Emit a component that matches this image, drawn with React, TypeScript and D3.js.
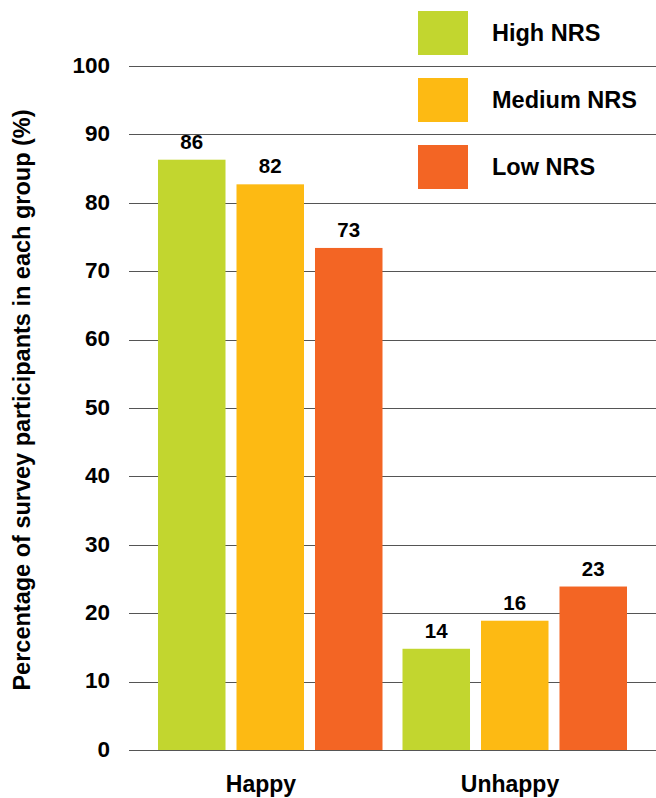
import React from "react";
import * as d3 from "d3";

const categories = ["Happy", "Unhappy"];
const seriesNames = ["High NRS", "Medium NRS", "Low NRS"];
const seriesColors = ["#C2D62F", "#FDBA13", "#F36524"];
// bar heights as drawn
const highValues = [86.3, 14.8];
const mediumValues = [82.7, 18.9];
const lowValues = [73.4, 23.9];
// printed labels
const highLabels = ["86", "14"];
const mediumLabels = ["82", "16"];
const lowLabels = ["73", "23"];
const yTicks = [0, 10, 20, 30, 40, 50, 60, 70, 80, 90, 100];
const yTitle = "Percentage of survey participants in each group (%)";

const W = 656;
const H = 798;
const FONT = "'Liberation Sans', Arial, Helvetica, sans-serif";

export default function App() {
  const values = [highValues, mediumValues, lowValues];
  const labels = [highLabels, mediumLabels, lowLabels];

  const y = d3.scaleLinear().domain([0, 100]).range([750, 66]);
  const x0 = d3.scaleBand<string>().domain(categories).range([148, 637]).padding(0);
  const xLabel = d3.scaleBand<string>().domain(categories).range([136.5, 634.5]).padding(0);
  const x1 = d3
    .scaleBand<string>()
    .domain(seriesNames)
    .range([10, x0.bandwidth() - 10])
    .paddingInner(0.14)
    .paddingOuter(0);

  const gridX0 = 129;
  const gridX1 = 656;

  return (
    <svg
      width={W}
      height={H}
      style={{ position: "absolute", left: 0, top: 0, background: "#fff" }}
      fontFamily={FONT}
      fontWeight="bold"
    >
      {/* gridlines */}
      {yTicks.map((t) => (
        <line
          key={"g" + t}
          x1={gridX0}
          x2={gridX1}
          y1={Math.round(y(t)) + 0.5}
          y2={Math.round(y(t)) + 0.5}
          stroke="#555"
          strokeWidth={1.2}
        />
      ))}
      {/* tick labels */}
      {yTicks.map((t) => (
        <text
          key={"t" + t}
          x={110}
          y={y(t)}
          dy="0.3em"
          textAnchor="end"
          fontSize={22.5}
          fill="#000"
        >
          {t}
        </text>
      ))}
      {/* bars */}
      {categories.map((c, ci) => (
        <g key={c} transform={`translate(${x0(c)},0)`}>
          {seriesNames.map((s, si) => {
            const v = values[si][ci];
            const bx = x1(s) as number;
            return (
              <g key={s}>
                <rect
                  x={bx}
                  y={y(v)}
                  width={x1.bandwidth()}
                  height={y(0) - y(v)}
                  fill={seriesColors[si]}
                />
                <text
                  x={bx + x1.bandwidth() / 2}
                  y={y(v) - 11}
                  textAnchor="middle"
                  fontSize={20.5}
                  fill="#000"
                >
                  {labels[si][ci]}
                </text>
              </g>
            );
          })}
        </g>
      ))}
      {/* category labels */}
      {categories.map((c) => (
        <text
          key={"c" + c}
          x={(xLabel(c) as number) + xLabel.bandwidth() / 2}
          y={791.5}
          textAnchor="middle"
          fontSize={23}
          fill="#000"
        >
          {c}
        </text>
      ))}
      {/* y title */}
      <text
        transform={`translate(30,400) rotate(-90)`}
        textAnchor="middle"
        fontSize={23.5}
        fill="#000"
      >
        {yTitle}
      </text>
      {/* legend */}
      {seriesNames.map((s, i) => (
        <g key={"l" + s} transform={`translate(418,${11 + i * 67})`}>
          <rect x={0} y={0} width={50} height={44} fill={seriesColors[i]} />
          <text x={74} y={22} dy="0.36em" fontSize={23.5} fill="#000">
            {s}
          </text>
        </g>
      ))}
    </svg>
  );
}
